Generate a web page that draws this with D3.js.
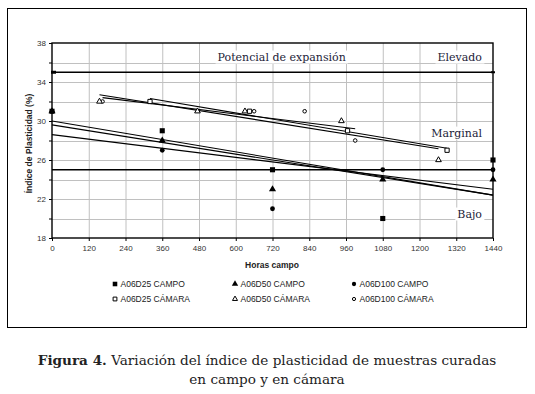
<!DOCTYPE html>
<html><head><meta charset="utf-8">
<script src="https://cdn.jsdelivr.net/npm/d3@7"></script>
<style>html,body{margin:0;padding:0;background:#fff}svg{display:block}</style>
</head><body>
<script>
// ---- data ----
const xTicks = [0,120,240,360,480,600,720,840,960,1080,1200,1320,1440];
const yTickLabels = [18,22,26,30,34,38];
const yMinorTicks = [18,20,22,24,26,28,30,32,34,36,38];

const d25CampoX = [0,360,720,1080,1440];
const d25CampoY = [31,29,25,20,26];
const d50CampoX = [0,360,720,1080,1440];
const d50CampoY = [31,28,23,24,24];
const d100CampoX = [0,360,720,1080,1440];
const d100CampoY = [31,27,21,25,25];

const d25CamaraX = [320,645,965,1290];
const d25CamaraY = [32,31,29,27];
const d50CamaraX = [155,475,630,945,1262];
const d50CamaraY = [32,31,31,30,26];
const d100CamaraX = [165,660,825,990];
const d100CamaraY = [32,31,31,28];

// trend lines: [x1, y1, x2, y2]
const trendD25Campo = [0,30.0,1440,22.4];
const trendD50Campo = [0,29.6,1440,22.4];
const trendD100Campo = [0,28.6,1440,23.0];
const trendD25Camara = [320,32.3,1290,27.2];
const trendD50Camara = [155,32.7,1262,27.15];
const trendD100Camara = [165,32.4,990,29.2];

const limitLevels = [35,25];
const zoneLabels = ["Potencial de expansión","Elevado","Marginal","Bajo"];
const zoneLabelX = [750,1320,1320,1320];
const zoneLabelY = [36.2,36.2,28.4,20.1];

const legendNames = ["A06D25 CAMPO","A06D50 CAMPO","A06D100 CAMPO","A06D25 CÁMARA","A06D50 CÁMARA","A06D100 CÁMARA"];

// ---- drawing ----
const W=535,H=394;
const svg=d3.select("body").append("svg").attr("width",W).attr("height",H);
svg.append("rect").attr("x",7.5).attr("y",8.5).attr("width",519).attr("height",319)
  .attr("fill","#fff").attr("stroke","#000").attr("stroke-width",1);

const L=52,R=493,T=43,B=238;
const x=d3.scaleLinear().domain([0,1440]).range([L,R]);
const y=d3.scaleLinear().domain([18,38]).range([B,T]);
const g=svg.append("g");
const sans="'Liberation Sans', Arial, sans-serif";
const serif="'DejaVu Serif', serif";

// grid
g.append("g").selectAll("line").data(xTicks.slice(1,-1)).join("line")
  .attr("x1",d=>x(d)+.5).attr("x2",d=>x(d)+.5).attr("y1",T).attr("y2",B)
  .attr("stroke","#c0c0c0").attr("stroke-width",1);
g.append("g").selectAll("line").data(yMinorTicks.slice(1,-1)).join("line")
  .attr("y1",d=>Math.round(y(d))+.5).attr("y2",d=>Math.round(y(d))+.5).attr("x1",L).attr("x2",R)
  .attr("stroke","#c0c0c0").attr("stroke-width",1);

// zone labels with white background
const anchors=["middle","end","end","end"];
zoneLabels.forEach((t,i)=>{
  const tx=g.append("text").attr("x",i===0?x(zoneLabelX[i]):482).attr("y",y(zoneLabelY[i]))
    .attr("text-anchor",anchors[i]).attr("font-family",serif).attr("font-size",11)
    .attr("fill","#1c1c38").text(t);
  const bb=tx.node().getBBox();
  g.insert("rect",()=>tx.node()).attr("x",bb.x-2).attr("y",bb.y).attr("width",bb.width+4).attr("height",bb.height)
    .attr("fill","#fff");
});

// limit lines
g.append("g").selectAll("line").data(limitLevels).join("line")
  .attr("x1",L).attr("x2",R).attr("y1",d=>y(d)).attr("y2",d=>y(d))
  .attr("stroke","#000").attr("stroke-width",1.4);
g.append("rect").attr("x",x(0)-1).attr("y",y(35)-1.5).attr("width",5).attr("height",3).attr("fill","#000");
g.append("rect").attr("x",x(1440)-2).attr("y",y(35)-1).attr("width",4).attr("height",2).attr("fill","#000");

// axes frame
g.append("rect").attr("x",L).attr("y",T).attr("width",R-L).attr("height",B-T)
  .attr("fill","none").attr("stroke","#000").attr("stroke-width",1.4);

// trend lines
[trendD25Campo,trendD50Campo,trendD100Campo,trendD25Camara,trendD50Camara,trendD100Camara].forEach(t=>{
  g.append("line").attr("x1",x(t[0])).attr("y1",y(t[1])).attr("x2",x(t[2])).attr("y2",y(t[3]))
    .attr("stroke","#000").attr("stroke-width",1.1);
});

// y axis ticks & labels
const yAxis=d3.axisLeft(y).tickValues(yMinorTicks).tickSize(3).tickFormat(d=>yTickLabels.includes(d)?d:"");
const ya=g.append("g").attr("transform",`translate(${L},0)`).call(yAxis);
ya.select(".domain").remove();
ya.selectAll("line").attr("stroke","#000");
ya.selectAll("text").attr("font-family",sans).attr("font-size",8).attr("fill","#333").attr("x",-6);

const xAxis=d3.axisBottom(x).tickValues(xTicks).tickSize(3).tickFormat(d3.format("d"));
const xa=g.append("g").attr("transform",`translate(0,${B})`).call(xAxis);
xa.select(".domain").remove();
xa.selectAll("line").attr("stroke","#000");
xa.selectAll("text").attr("font-family",sans).attr("font-size",8).attr("fill","#333").attr("y",7);

// axis titles
g.append("text").attr("transform",`translate(32,${(T+B)/2+3}) rotate(-90)`).attr("text-anchor","middle")
  .attr("font-family",sans).attr("font-weight","bold").attr("font-size",8.5).attr("fill","#222")
  .text("Índice de Plasticidad (%)");
g.append("text").attr("x",272).attr("y",268).attr("text-anchor","middle")
  .attr("font-family",sans).attr("font-weight","bold").attr("font-size",8.5).attr("fill","#222")
  .text("Horas campo");

// markers
const sq=d3.symbol().type(d3.symbolSquare);
const tri=d3.symbol().type(d3.symbolTriangle);
const cir=d3.symbol().type(d3.symbolCircle);
const series=[
  {xs:d25CampoX,ys:d25CampoY,sym:sq,size:26,fill:"#000"},
  {xs:d50CampoX,ys:d50CampoY,sym:tri,size:22,fill:"#000"},
  {xs:d100CampoX,ys:d100CampoY,sym:cir,size:18,fill:"#000"},
  {xs:d25CamaraX,ys:d25CamaraY,sym:sq,size:18,fill:"#fff"},
  {xs:d50CamaraX,ys:d50CamaraY,sym:tri,size:14,fill:"#fff"},
  {xs:d100CamaraX,ys:d100CamaraY,sym:cir,size:10,fill:"#fff"}];
series.slice().reverse().forEach(s=>{
  g.append("g").selectAll("path").data(s.xs.map((v,i)=>[v,s.ys[i]])).join("path")
    .attr("transform",d=>`translate(${x(d[0])},${y(d[1])})`)
    .attr("d",s.sym.size(s.size)()).attr("fill",s.fill).attr("stroke","#000").attr("stroke-width",s.fill==="#000"?0:1);
});

// legend
const legCols=[115,235,354], legRows=[284,299];
legendNames.forEach((n,i)=>{
  const c=i%3,r=Math.floor(i/3), s=series[i];
  svg.append("path").attr("transform",`translate(${legCols[c]},${legRows[r]})`)
    .attr("d",s.sym.size(s.size*0.8)()).attr("fill",s.fill).attr("stroke","#000").attr("stroke-width",s.fill==="#000"?0:1);
  svg.append("text").attr("x",legCols[c]+5.5).attr("y",legRows[r]+3).attr("font-family",sans)
    .attr("font-size",8.5).attr("fill","#222").text(n);
});

// caption
const cap=svg.append("text").attr("x",267).attr("y",365).attr("text-anchor","middle")
  .attr("font-family",serif).attr("font-size",13.6).attr("fill","#222");
cap.append("tspan").attr("font-weight","bold").text("Figura 4.");
cap.append("tspan").text(" Variación del índice de plasticidad de muestras curadas");
svg.append("text").attr("x",267).attr("y",384).attr("text-anchor","middle")
  .attr("font-family",serif).attr("font-size",13.6).attr("fill","#222").text("en campo y en cámara");
</script>
</body></html>
